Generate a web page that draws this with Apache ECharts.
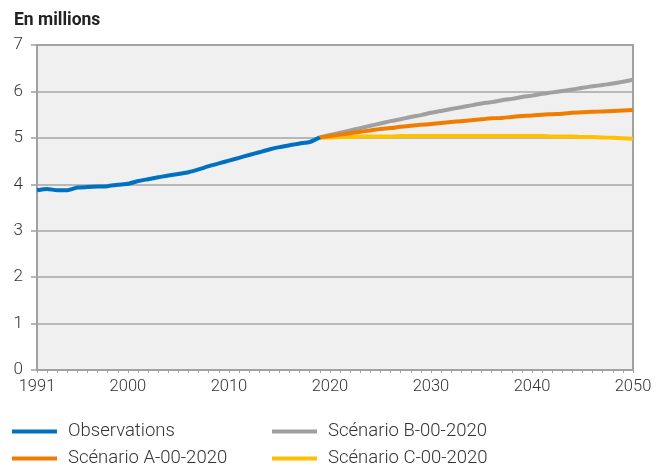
<!DOCTYPE html>
<html>
<head>
<meta charset="utf-8">
<script src="https://cdn.jsdelivr.net/npm/echarts@6/dist/echarts.min.js"></script>
<style>html,body{margin:0;padding:0;background:#fff}#c{width:656px;height:466px}</style>
</head>
<body>
<div id="c"></div>
<script>
const obsYears = [1991,1992,1993,1994,1995,1996,1997,1998,1999,2000,2001,2002,2003,2004,2005,2006,2007,2008,2009,2010,2011,2012,2013,2014,2015,2016,2017,2018,2019];
const observations = [3.87,3.90,3.87,3.87,3.93,3.94,3.95,3.96,3.99,4.01,4.07,4.11,4.15,4.19,4.22,4.26,4.32,4.39,4.45,4.51,4.57,4.63,4.69,4.75,4.80,4.84,4.88,4.91,5.01];
const projYears = [2019,2020,2021,2022,2023,2024,2025,2026,2027,2028,2029,2030,2031,2032,2033,2034,2035,2036,2037,2038,2039,2040,2041,2042,2043,2044,2045,2046,2047,2048,2049,2050];
const scenarioB = [5.01,5.06,5.11,5.16,5.21,5.26,5.31,5.36,5.40,5.45,5.49,5.54,5.58,5.62,5.66,5.70,5.74,5.77,5.81,5.84,5.88,5.91,5.95,5.98,6.01,6.04,6.08,6.11,6.14,6.17,6.21,6.25];
const scenarioA = [5.01,5.04,5.07,5.10,5.13,5.16,5.19,5.21,5.24,5.26,5.28,5.30,5.32,5.34,5.36,5.38,5.40,5.42,5.43,5.45,5.47,5.48,5.50,5.51,5.52,5.54,5.55,5.56,5.57,5.58,5.59,5.60];
const scenarioC = [5.00,5.01,5.02,5.02,5.03,5.03,5.03,5.03,5.04,5.04,5.04,5.04,5.04,5.04,5.04,5.04,5.04,5.04,5.04,5.04,5.04,5.04,5.04,5.03,5.03,5.03,5.02,5.02,5.01,5.00,4.99,4.98];
const xLabels = [1991,2000,2010,2020,2030,2040,2050];
const names = ['Observations','Scénario B-00-2020','Scénario A-00-2020','Scénario C-00-2020'];
const colors = {obs:'#0070c0', A:'#f07d00', B:'#a0a0a0', C:'#ffc000'};

const zip = (xs, ys) => xs.map((x,i)=>[x, ys[i]]);
const font = 'Roboto';
const chart = echarts.init(document.getElementById('c'), null, {renderer:'canvas'});
const lineSeries = (name, data, color, z, smooth) => ({
  name, type:'line', data, showSymbol:false, symbol:'none', z,
  lineStyle:{color, width:4}, itemStyle:{color}, smooth, animation:false
});
const legendAt = (name, left, top) => ({
  left, top, padding:0, data:[name], itemWidth:45, itemHeight:4, icon:'rect', selectedMode:false,
  textStyle:{fontFamily:font, fontSize:18.5, color:'#333', fontWeight:300, padding:[0,0,0,6]}
});
chart.setOption({
  animation:false,
  title:{text:'En millions', left:9, top:7, textStyle:{fontFamily:font, fontSize:17.5, fontWeight:'bold', color:'#222'}},
  grid:{left:37, right:23, top:45, bottom:96, show:true, backgroundColor:'#f0f0f0', borderColor:'#a0a0a0', borderWidth:2, containLabel:false},
  legend:[
    legendAt(names[0], 12, 422),
    legendAt(names[1], 272, 422),
    legendAt(names[2], 12, 449),
    legendAt(names[3], 272, 449)
  ],
  xAxis:{
    type:'value', min:1991, max:2050, interval:1,
    axisLine:{show:true, lineStyle:{color:'#a0a0a0', width:1.5}},
    axisTick:{show:true, length:3, lineStyle:{color:'#a0a0a0'}},
    splitLine:{show:false},
    axisLabel:{customValues:xLabels, fontFamily:font, fontSize:16.5, fontWeight:300, color:'#333', margin:8, formatter:v=>String(v)}
  },
  yAxis:{
    type:'value', min:0, max:7, interval:1,
    axisLine:{show:true, lineStyle:{color:'#a0a0a0', width:2}},
    axisTick:{show:true, length:6, inside:false, lineStyle:{color:'#a0a0a0', width:1.5}},
    splitLine:{show:true, lineStyle:{color:'#a6a6a6', width:1.5}},
    axisLabel:{fontFamily:font, fontSize:17, fontWeight:300, color:'#333', margin:14}
  },
  series:[
    lineSeries(names[0], zip(obsYears, observations), colors.obs, 5, 0.2),
    lineSeries(names[1], zip(projYears, scenarioB), colors.B, 3, 0.5),
    lineSeries(names[2], zip(projYears, scenarioA), colors.A, 4, 0.5),
    lineSeries(names[3], zip(projYears, scenarioC), colors.C, 2, 0.5)
  ]
});
</script>
</body>
</html>
